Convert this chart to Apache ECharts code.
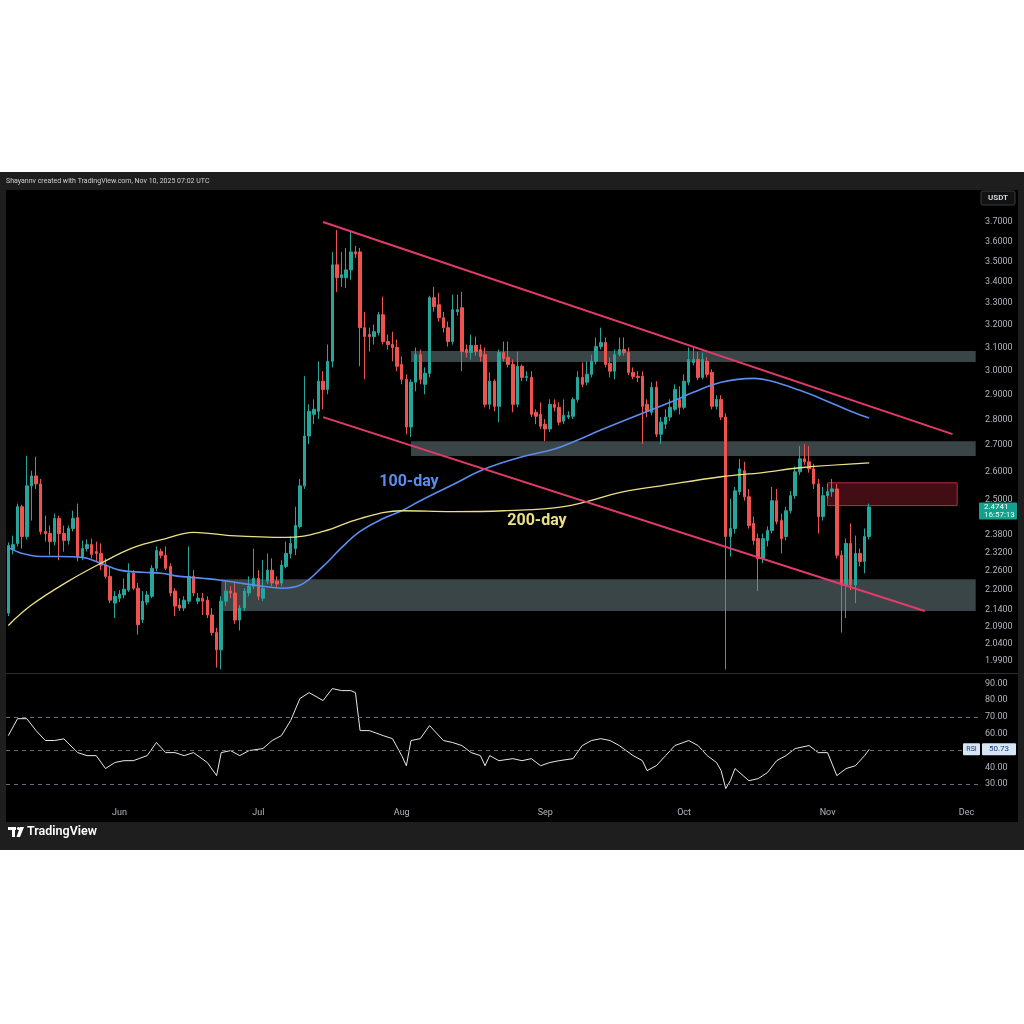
<!DOCTYPE html>
<html>
<head>
<meta charset="utf-8">
<script src="https://cdn.jsdelivr.net/npm/echarts@6/dist/echarts.min.js"></script>
<style>
  html, body { margin: 0; padding: 0; background: #fff; }
  #chart { width: 1024px; height: 1024px; }
</style>
</head>
<body>
<div id="chart"></div>
<script>
// daily XRP/USDT, 2025-05-08 .. 2025-11-10, [open, close, low, high]
const candles = [
  [2.130, 2.343, 2.121, 2.353], [2.330, 2.346, 2.314, 2.376], [2.350, 2.475, 2.340, 2.486], [2.475, 2.373, 2.333, 2.482],
  [2.373, 2.549, 2.363, 2.660], [2.549, 2.585, 2.427, 2.604], [2.585, 2.556, 2.538, 2.656], [2.556, 2.390, 2.380, 2.574],
  [2.390, 2.383, 2.356, 2.444], [2.383, 2.356, 2.311, 2.410], [2.356, 2.434, 2.343, 2.451], [2.434, 2.383, 2.295, 2.444],
  [2.383, 2.360, 2.323, 2.410], [2.360, 2.400, 2.346, 2.410], [2.400, 2.434, 2.390, 2.461], [2.437, 2.307, 2.291, 2.486],
  [2.307, 2.333, 2.295, 2.360], [2.333, 2.346, 2.323, 2.363], [2.346, 2.314, 2.301, 2.366], [2.323, 2.317, 2.291, 2.356],
  [2.317, 2.279, 2.263, 2.350], [2.279, 2.243, 2.237, 2.301], [2.243, 2.169, 2.160, 2.275], [2.160, 2.181, 2.115, 2.197],
  [2.175, 2.188, 2.163, 2.200], [2.185, 2.203, 2.175, 2.237], [2.200, 2.253, 2.194, 2.285], [2.253, 2.206, 2.200, 2.263],
  [2.206, 2.095, 2.066, 2.222], [2.110, 2.166, 2.100, 2.197], [2.163, 2.185, 2.154, 2.197], [2.181, 2.269, 2.175, 2.279],
  [2.269, 2.327, 2.259, 2.340], [2.323, 2.311, 2.301, 2.333], [2.311, 2.269, 2.263, 2.340], [2.275, 2.191, 2.181, 2.285],
  [2.197, 2.151, 2.121, 2.206], [2.154, 2.145, 2.136, 2.175], [2.145, 2.169, 2.136, 2.181], [2.166, 2.243, 2.157, 2.340],
  [2.243, 2.191, 2.181, 2.263], [2.166, 2.175, 2.157, 2.191], [2.175, 2.166, 2.124, 2.191], [2.169, 2.124, 2.115, 2.181],
  [2.124, 2.072, 2.063, 2.145], [2.072, 2.022, 1.972, 2.086], [2.022, 2.166, 1.967, 2.181], [2.166, 2.197, 2.151, 2.231],
  [2.197, 2.191, 2.175, 2.212], [2.191, 2.109, 2.098, 2.222], [2.109, 2.145, 2.078, 2.154], [2.145, 2.197, 2.136, 2.206],
  [2.191, 2.212, 2.181, 2.243], [2.212, 2.237, 2.203, 2.333], [2.237, 2.181, 2.169, 2.263], [2.175, 2.206, 2.166, 2.295],
  [2.228, 2.263, 2.219, 2.317], [2.263, 2.222, 2.212, 2.301], [2.228, 2.219, 2.206, 2.243], [2.222, 2.279, 2.212, 2.295],
  [2.275, 2.317, 2.269, 2.356], [2.317, 2.350, 2.301, 2.373], [2.333, 2.410, 2.311, 2.475], [2.407, 2.549, 2.400, 2.574],
  [2.549, 2.735, 2.538, 2.976], [2.735, 2.832, 2.704, 2.860], [2.820, 2.840, 2.781, 2.880], [2.832, 2.955, 2.801, 3.039],
  [2.955, 2.921, 2.840, 2.997], [2.921, 3.039, 2.901, 3.112], [3.039, 3.483, 3.013, 3.547], [3.483, 3.420, 3.352, 3.658],
  [3.420, 3.434, 3.376, 3.547], [3.420, 3.458, 3.371, 3.567], [3.458, 3.547, 3.410, 3.648], [3.547, 3.537, 3.517, 3.577],
  [3.547, 3.187, 3.018, 3.567], [3.187, 3.147, 2.963, 3.259], [3.156, 3.147, 3.081, 3.187], [3.147, 3.169, 3.112, 3.201],
  [3.165, 3.246, 3.152, 3.259], [3.246, 3.125, 3.112, 3.330], [3.125, 3.112, 3.090, 3.156], [3.112, 3.099, 3.039, 3.169],
  [3.099, 3.018, 2.997, 3.134], [3.026, 2.963, 2.942, 3.060], [2.963, 2.770, 2.742, 2.984], [2.770, 2.951, 2.731, 2.963],
  [2.951, 3.068, 2.913, 3.099], [3.068, 2.963, 2.942, 3.090], [2.942, 2.988, 2.901, 3.013], [2.988, 3.325, 2.971, 3.334],
  [3.325, 3.283, 3.260, 3.376], [3.292, 3.232, 3.214, 3.348], [3.232, 3.187, 3.165, 3.259], [3.187, 3.125, 3.103, 3.214],
  [3.125, 3.269, 3.112, 3.339], [3.260, 3.269, 3.242, 3.339], [3.278, 3.081, 2.997, 3.352], [3.090, 3.077, 3.056, 3.112],
  [3.077, 3.108, 3.047, 3.156], [3.108, 3.081, 3.064, 3.147], [3.090, 3.060, 3.039, 3.112], [3.068, 2.860, 2.848, 3.099],
  [2.860, 2.955, 2.840, 2.992], [2.955, 2.852, 2.832, 2.963], [2.852, 3.077, 2.789, 3.090], [3.077, 3.051, 3.039, 3.125],
  [3.056, 3.026, 3.013, 3.125], [3.026, 2.860, 2.828, 3.047], [2.860, 3.018, 2.848, 3.081], [3.018, 2.971, 2.955, 3.026],
  [2.971, 2.975, 2.955, 2.997], [2.971, 2.820, 2.809, 2.997], [2.828, 2.812, 2.781, 2.840], [2.820, 2.773, 2.762, 2.868],
  [2.781, 2.762, 2.715, 2.801], [2.762, 2.860, 2.750, 2.880], [2.860, 2.848, 2.832, 2.880], [2.848, 2.789, 2.777, 2.868],
  [2.793, 2.816, 2.781, 2.880], [2.809, 2.816, 2.801, 2.832], [2.812, 2.880, 2.801, 2.888], [2.880, 2.971, 2.868, 2.997],
  [2.971, 2.942, 2.930, 3.034], [2.951, 2.984, 2.938, 3.039], [2.984, 3.039, 2.971, 3.068], [3.039, 3.103, 3.026, 3.143],
  [3.103, 3.121, 3.090, 3.187], [3.121, 3.026, 3.013, 3.143], [3.030, 2.997, 2.971, 3.056], [2.997, 3.068, 2.963, 3.090],
  [3.068, 3.090, 3.060, 3.143], [3.090, 3.077, 3.064, 3.143], [3.077, 2.992, 2.980, 3.099], [2.992, 2.975, 2.963, 3.013],
  [2.975, 2.971, 2.951, 2.997], [2.975, 2.852, 2.704, 2.997], [2.860, 2.832, 2.809, 2.880], [2.828, 2.930, 2.816, 2.951],
  [2.930, 2.742, 2.731, 2.955], [2.742, 2.789, 2.704, 2.809], [2.781, 2.809, 2.762, 2.840], [2.809, 2.848, 2.793, 2.880],
  [2.840, 2.921, 2.832, 2.942], [2.880, 2.848, 2.820, 2.934], [2.848, 2.955, 2.840, 2.984], [2.951, 3.047, 2.938, 3.099],
  [3.034, 3.047, 3.022, 3.099], [3.047, 2.971, 2.959, 3.081], [2.971, 3.047, 2.963, 3.077], [3.039, 2.984, 2.971, 3.056],
  [2.992, 2.852, 2.840, 3.005], [2.852, 2.880, 2.840, 2.897], [2.880, 2.809, 2.797, 2.897], [2.809, 2.373, 1.967, 2.824],
  [2.373, 2.400, 2.307, 2.503], [2.400, 2.531, 2.383, 2.545], [2.528, 2.611, 2.517, 2.648], [2.604, 2.510, 2.496, 2.637],
  [2.510, 2.410, 2.400, 2.538], [2.417, 2.360, 2.346, 2.441], [2.366, 2.301, 2.197, 2.383], [2.301, 2.366, 2.285, 2.383],
  [2.360, 2.393, 2.340, 2.407], [2.393, 2.496, 2.383, 2.545], [2.496, 2.424, 2.414, 2.538], [2.427, 2.366, 2.317, 2.451],
  [2.373, 2.461, 2.360, 2.475], [2.461, 2.514, 2.451, 2.531], [2.514, 2.600, 2.503, 2.619], [2.600, 2.648, 2.589, 2.697],
  [2.648, 2.637, 2.626, 2.704], [2.637, 2.611, 2.597, 2.697], [2.611, 2.556, 2.538, 2.630], [2.556, 2.441, 2.383, 2.574],
  [2.441, 2.514, 2.427, 2.545], [2.514, 2.528, 2.503, 2.556], [2.528, 2.538, 2.510, 2.574], [2.538, 2.311, 2.301, 2.556],
  [2.311, 2.216, 2.072, 2.327], [2.216, 2.350, 2.115, 2.366], [2.350, 2.216, 2.200, 2.417], [2.216, 2.317, 2.160, 2.376],
  [2.317, 2.291, 2.275, 2.333], [2.291, 2.373, 2.253, 2.400], [2.373, 2.4741, 2.363, 2.486]
];

// moving averages: [day index, price]
const ma100 = [
  [0, 2.336], [3, 2.317], [7, 2.307], [11, 2.307], [16, 2.304], [20, 2.285], [24, 2.263], [29, 2.256],
  [33, 2.253], [37, 2.243], [42, 2.237], [46, 2.231], [50, 2.222], [55, 2.212], [59, 2.206], [63, 2.215],
  [68, 2.275], [72, 2.336], [76, 2.390], [81, 2.434], [85, 2.461], [89, 2.496], [96, 2.553], [103, 2.611],
  [111, 2.656], [118, 2.685], [122, 2.712], [128, 2.758], [137, 2.824], [143, 2.868], [148, 2.909], [154, 2.951],
  [161, 2.967], [165, 2.955], [171, 2.917], [176, 2.880], [182, 2.832], [186, 2.805]
];
const ma200 = [
  [0, 2.093], [5, 2.154], [13, 2.228], [20, 2.285], [27, 2.336], [34, 2.366], [40, 2.387], [48, 2.376],
  [60, 2.370], [68, 2.390], [76, 2.434], [85, 2.461], [96, 2.458], [107, 2.461], [120, 2.475], [133, 2.528],
  [141, 2.549], [154, 2.582], [163, 2.597], [171, 2.615], [186, 2.633]
];

// RSI(14): [day index, value]
const rsi = [
  [0, 58.9], [2, 69.0], [4, 69.0], [6, 61.9], [8, 56.0], [10, 56.0], [12, 57.0], [15, 48.8], [17, 47.0], [19, 47.0],
  [21, 39.3], [23, 42.9], [25, 44.0], [27, 44.0], [30, 47.0], [32, 54.8], [34, 48.8], [36, 48.8], [38, 47.0], [40, 48.8],
  [43, 42.9], [45, 35.1], [46, 48.8], [48, 50.0], [50, 47.0], [52, 50.0], [55, 51.2], [57, 56.0], [59, 58.9], [61, 67.9],
  [63, 81.0], [65, 84.5], [68, 79.8], [70, 86.9], [72, 85.7], [74, 85.7], [75, 84.5], [76, 61.9], [78, 61.9], [81, 58.9],
  [83, 57.1], [85, 47.0], [86, 41.0], [87, 56.0], [89, 57.1], [91, 64.9], [94, 56.0], [96, 54.8], [98, 53.0], [100, 48.8],
  [102, 47.0], [103, 41.0], [104, 47.0], [106, 44.0], [109, 45.2], [111, 44.0], [113, 45.2], [115, 41.0], [117, 42.9], [119, 44.0],
  [122, 45.2], [124, 53.0], [126, 56.0], [128, 57.1], [130, 56.0], [132, 53.0], [135, 47.0], [137, 44.0], [138, 38.1], [140, 41.0],
  [142, 47.0], [144, 53.0], [147, 56.0], [149, 53.0], [151, 47.0], [153, 42.9], [154, 38.1], [155, 27.4], [156, 32.1], [157, 39.3],
  [160, 32.1], [162, 33.3], [164, 36.9], [166, 44.0], [168, 47.0], [170, 51.2], [173, 53.0], [175, 48.8], [177, 48.8], [179, 35.1],
  [181, 39.3], [183, 41.0], [185, 47.0], [186, 50.73]
];

const priceTicks = [3.7, 3.6, 3.5, 3.4, 3.3, 3.2, 3.1, 3.0, 2.9, 2.8, 2.7, 2.6, 2.5, 2.38, 2.32, 2.26, 2.2, 2.14, 2.09, 2.04, 1.99];
const rsiTicks = [30, 40, 50, 60, 70, 80, 90];
const rsiLevels = [70, 50, 30];

// drawn zones: [from, to, top price, bottom price]
const grayZones = [
  ['2025-08-03', '2025-12-03', 3.084, 3.036],
  ['2025-08-03', '2025-12-03', 2.715, 2.659],
  ['2025-06-23', '2025-12-03', 2.234, 2.136]
];
const redZone = ['2025-11-01', '2025-11-29', 2.560, 2.479];
// channel lines: [from, price, to, price]
const channelLines = [
  ['2025-07-15', 3.700, '2025-11-28', 2.742],
  ['2025-07-15', 2.809, '2025-11-22', 2.136]
];

const lastPrice = 2.4741;
const lastRsi = 50.73;

const dates = [];
for (let i = 0; i < 210; i++) {
    const d = new Date(Date.UTC(2025, 4, 8 + i));
    dates.push(d.toISOString().slice(0, 10));
}
const monthNames = ['Jan', 'Feb', 'Mar', 'Apr', 'May', 'Jun', 'Jul', 'Aug', 'Sep', 'Oct', 'Nov', 'Dec'];

const ln = Math.log;
const axisFont = 'Roboto, sans-serif';
const labelGray = '#b2b5be';

const chart = echarts.init(document.getElementById('chart'), null, { renderer: 'canvas' });

const option = {
    backgroundColor: '#ffffff',
    animation: false,
    grid: [
        { left: 6, right: 46, top: 190, height: 483 },
        { left: 6, right: 46, top: 675, height: 126 }
    ],
    xAxis: [
        {
            type: 'category', gridIndex: 0, data: dates, boundaryGap: true,
            axisLine: { show: true, lineStyle: { color: '#2e2e2e' } },
            axisTick: { show: false }, axisLabel: { show: false }, splitLine: { show: false }
        },
        {
            type: 'category', gridIndex: 1, data: dates, boundaryGap: true,
            axisLine: { show: false }, axisTick: { show: false }, splitLine: { show: false },
            axisLabel: {
                color: labelGray, fontSize: 9, fontFamily: axisFont, margin: 7,
                interval: (idx, val) => val.slice(8) === '01',
                formatter: (val) => monthNames[+val.slice(5, 7) - 1]
            }
        }
    ],
    yAxis: [
        {
            type: 'value', gridIndex: 0, position: 'right',
            min: ln(1.957), max: ln(3.871),
            splitLine: { show: false }, axisLine: { show: false }, axisTick: { show: false },
            axisLabel: {
                customValues: priceTicks.map(ln),
                formatter: (v) => Math.exp(v).toFixed(4),
                color: labelGray, fontSize: 9, fontFamily: axisFont, margin: 7
            }
        },
        {
            type: 'value', gridIndex: 1, position: 'right', min: 20, max: 95,
            splitLine: { show: false }, axisLine: { show: false }, axisTick: { show: false },
            axisLabel: {
                customValues: rsiTicks,
                formatter: (v) => v.toFixed(2),
                color: labelGray, fontSize: 9, fontFamily: axisFont, margin: 7
            }
        }
    ],
    series: [
        {
            type: 'candlestick', xAxisIndex: 0, yAxisIndex: 0,
            data: candles.map((c) => c.map(ln)),
            barWidth: 3,
            itemStyle: {
                color: '#26a69a', color0: '#ef5350',
                borderColor: '#26a69a', borderColor0: '#ef5350', borderWidth: 1
            }
        },
        {
            type: 'line', xAxisIndex: 0, yAxisIndex: 0, name: '100-day',
            data: ma100.map((p) => [p[0], ln(p[1])]),
            smooth: 0.4, showSymbol: false,
            lineStyle: { color: '#5b8def', width: 1.6 }, z: 3
        },
        {
            type: 'line', xAxisIndex: 0, yAxisIndex: 0, name: '200-day',
            data: ma200.map((p) => [p[0], ln(p[1])]),
            smooth: 0.4, showSymbol: false,
            lineStyle: { color: '#ece085', width: 1.3 }, z: 3
        },
        {
            // drawings layer
            type: 'line', xAxisIndex: 0, yAxisIndex: 0, data: [], z: 6, silent: true,
            markArea: {
                silent: true,
                data: grayZones.map((zn) => [
                    { xAxis: zn[0], yAxis: ln(zn[2]), itemStyle: { color: 'rgba(105,125,130,0.55)' } },
                    { xAxis: zn[1], yAxis: ln(zn[3]) }
                ]).concat([[
                    { xAxis: redZone[0], yAxis: ln(redZone[2]),
                      itemStyle: { color: 'rgba(120,24,36,0.55)', borderColor: '#b3303f', borderWidth: 1 } },
                    { xAxis: redZone[1], yAxis: ln(redZone[3]) }
                ]])
            },
            markLine: {
                silent: true, symbol: ['none', 'none'],
                label: { show: false },
                lineStyle: { color: '#e33a6c', width: 2, type: 'solid' },
                data: channelLines.map((l) => [
                    { coord: [l[0], ln(l[1])] },
                    { coord: [l[2], ln(l[3])] }
                ])
            }
        },
        {
            type: 'line', xAxisIndex: 1, yAxisIndex: 1, name: 'RSI',
            data: rsi, showSymbol: false,
            lineStyle: { color: '#e8e8e8', width: 1 },
            markLine: {
                silent: true, symbol: ['none', 'none'], label: { show: false },
                lineStyle: { color: '#6a6d78', width: 1, type: [4, 4] },
                data: rsiLevels.map((v) => ({ yAxis: v }))
            }
        }
    ]
};

chart.setOption(option);

const priceY = chart.convertToPixel({ yAxisIndex: 0 }, ln(lastPrice));
const rsiY = chart.convertToPixel({ yAxisIndex: 1 }, lastRsi);

chart.setOption({
    graphic: [
        { type: 'rect', z: -20, shape: { x: 0, y: 172, width: 1024, height: 678 }, style: { fill: '#1e1e1e' } },
        { type: 'rect', z: -19, shape: { x: 6, y: 190, width: 1012, height: 632 }, style: { fill: '#000000' } },
        { type: 'line', z: 1, shape: { x1: 6, y1: 673.5, x2: 1018, y2: 673.5 }, style: { stroke: '#2e2e2e', lineWidth: 1 } },
        {
            type: 'text', x: 6, y: 178, z: 10,
            style: { text: 'Shayannv created with TradingView.com, Nov 10, 2025 07:02 UTC', fill: '#cfcfcf', font: '7px ' + axisFont }
        },
        { type: 'rect', z: 10, shape: { x: 981, y: 191, width: 34, height: 14, r: 2 }, style: { fill: '#121212', stroke: '#3c3c3c', lineWidth: 1 } },
        { type: 'text', z: 11, x: 998, y: 198, style: { text: 'USDT', fill: '#d1d4dc', font: 'bold 8px ' + axisFont, align: 'center', verticalAlign: 'middle' } },
        {
            type: 'text', z: 12, x: 409, y: 482,
            style: { text: '100-day', fill: '#5b8def', font: 'bold 16px ' + axisFont, align: 'center', verticalAlign: 'middle' }
        },
        {
            type: 'text', z: 12, x: 537, y: 521,
            style: { text: '200-day', fill: '#ece085', font: 'bold 16px ' + axisFont, align: 'center', verticalAlign: 'middle' }
        },
        { type: 'rect', z: 12, shape: { x: 979, y: priceY - 4.5, width: 38, height: 17, r: 1 }, style: { fill: '#14a08c' } },
        { type: 'text', z: 13, x: 984, y: priceY, style: { text: lastPrice.toFixed(4), fill: '#ffffff', font: '8px ' + axisFont, verticalAlign: 'middle' } },
        { type: 'text', z: 13, x: 984, y: priceY + 8, style: { text: '16:57:13', fill: '#e6fff9', font: '8px ' + axisFont, verticalAlign: 'middle' } },
        { type: 'rect', z: 12, shape: { x: 963, y: rsiY - 6, width: 17, height: 12, r: 1 }, style: { fill: '#d7e6f6' } },
        { type: 'text', z: 13, x: 971.5, y: rsiY, style: { text: 'RSI', fill: '#1d3b73', font: '7px ' + axisFont, align: 'center', verticalAlign: 'middle' } },
        { type: 'rect', z: 12, shape: { x: 982, y: rsiY - 6, width: 34, height: 12, r: 1 }, style: { fill: '#d7e6f6' } },
        { type: 'text', z: 13, x: 999, y: rsiY, style: { text: lastRsi.toFixed(2), fill: '#1d3b73', font: '8px ' + axisFont, align: 'center', verticalAlign: 'middle' } },
        // TradingView logo
        { type: 'rect', z: 10, shape: { x: 8, y: 827, width: 8, height: 3 }, style: { fill: '#ffffff' } },
        { type: 'rect', z: 10, shape: { x: 12, y: 827, width: 3, height: 10 }, style: { fill: '#ffffff' } },
        { type: 'circle', z: 10, shape: { cx: 18.5, cy: 828.5, r: 1.6 }, style: { fill: '#ffffff' } },
        { type: 'polygon', z: 10, shape: { points: [[20, 827], [24, 827], [20, 837], [16.5, 837]] }, style: { fill: '#ffffff' } },
        { type: 'text', z: 10, x: 27, y: 832, style: { text: 'TradingView', fill: '#ffffff', font: '600 12.5px ' + axisFont, verticalAlign: 'middle' } }
    ]
});
</script>
</body>
</html>
